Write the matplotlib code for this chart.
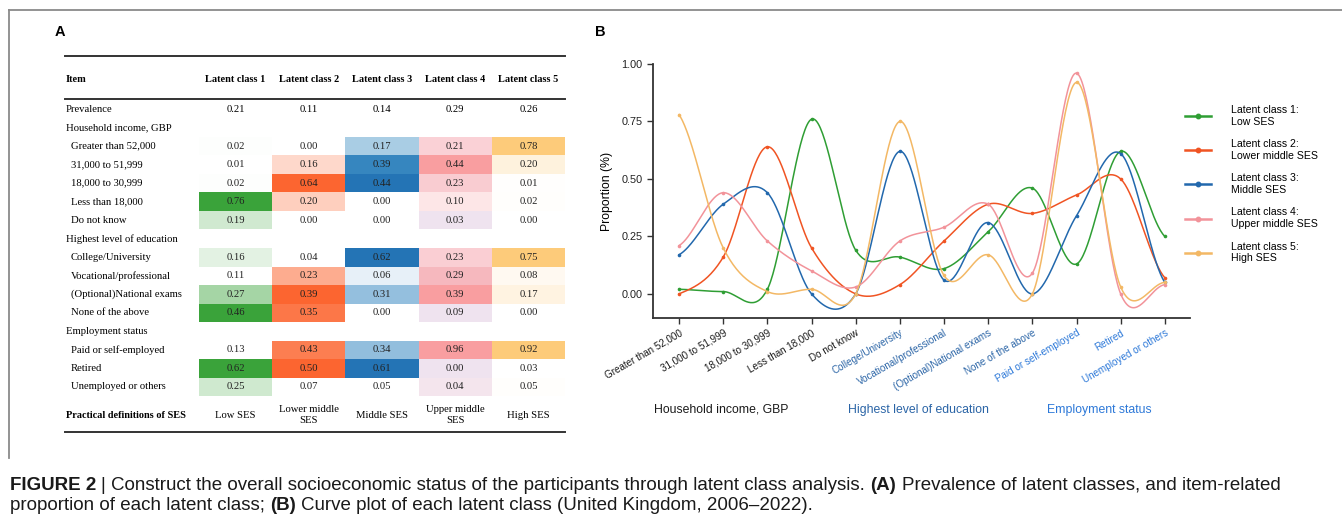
import numpy as np
import matplotlib
matplotlib.use("Agg")
import matplotlib.pyplot as plt
from matplotlib.colors import LinearSegmentedColormap
from matplotlib.patches import Rectangle
from matplotlib.lines import Line2D

# ---- data -------------------------------------------------------------
class_names = ["Latent class 1", "Latent class 2", "Latent class 3", "Latent class 4", "Latent class 5"]
ses_names = ["Low SES", "Lower middle\nSES", "Middle SES", "Upper middle\nSES", "High SES"]
legend_names = ["Latent class 1:\nLow SES", "Latent class 2:\nLower middle SES", "Latent class 3:\nMiddle SES",
                "Latent class 4:\nUpper middle SES", "Latent class 5:\nHigh SES"]
prevalence = [0.21, 0.11, 0.14, 0.29, 0.26]

groups = ["Household income, GBP", "Highest level of education", "Employment status"]
income_items = ["Greater than 52,000", "31,000 to 51,999", "18,000 to 30,999", "Less than 18,000", "Do not know"]
education_items = ["College/University", "Vocational/professional", "(Optional)National exams", "None of the above"]
employment_items = ["Paid or self-employed", "Retired", "Unemployed or others"]

class1 = [0.02, 0.01, 0.02, 0.76, 0.19, 0.16, 0.11, 0.27, 0.46, 0.13, 0.62, 0.25]
class2 = [0.00, 0.16, 0.64, 0.20, 0.00, 0.04, 0.23, 0.39, 0.35, 0.43, 0.50, 0.07]
class3 = [0.17, 0.39, 0.44, 0.00, 0.00, 0.62, 0.06, 0.31, 0.00, 0.34, 0.61, 0.05]
class4 = [0.21, 0.44, 0.23, 0.10, 0.03, 0.23, 0.29, 0.39, 0.09, 0.96, 0.00, 0.04]
class5 = [0.78, 0.20, 0.01, 0.02, 0.00, 0.75, 0.08, 0.17, 0.00, 0.92, 0.03, 0.05]
classes = [class1, class2, class3, class4, class5]

# ---- styles -------------------------------------------------------------
W, H = 1342, 521
line_cols = ["#2f9e34", "#f05423", "#2268ad", "#f2939a", "#f3b865"]
cell_cmaps = [
    LinearSegmentedColormap.from_list("g", ["#ffffff", "#3aa33a"]),
    LinearSegmentedColormap.from_list("o", ["#ffffff", "#fc6530"]),
    LinearSegmentedColormap.from_list("b", [(0, "#ffffff"), (0.1, "#e6eff8"), (0.4, "#a6cbe3"),
                                            (0.55, "#8cbadb"), (0.89, "#3585bf"), (1, "#2474b5")]),
    LinearSegmentedColormap.from_list("p", [(0, "#efe3ef"), (0.12, "#fdeaea"), (0.45, "#fad0d5"),
                                            (0.7, "#f5b4ba"), (1, "#f99ea0")]),
    LinearSegmentedColormap.from_list("y", ["#ffffff", "#fdcb7a"]),
]
group_cols = ["#1a1a1a", "#2a64a6", "#2c78d8"]
serif = "Liberation Serif"
sans = "Liberation Sans"

fig = plt.figure(figsize=(W / 100, H / 100), dpi=100)
fig.patch.set_facecolor("white")
bg = fig.add_axes([0, 0, 1, 1])
bg.set_xlim(0, W)
bg.set_ylim(H, 0)
bg.axis("off")

# frame
bg.plot([9, W], [10, 10], color="#8a8a8a", lw=1.3)
bg.plot([9, 9], [10, 458], color="#8a8a8a", lw=1.3)

bg.text(55, 32, "A", fontsize=10.5, fontweight="bold", family=sans, va="center")
bg.text(595, 32, "B", fontsize=10.5, fontweight="bold", family=sans, va="center")

# ---- panel A: table -----------------------------------------------------
x_left, x_right = 65, 565
col_x0, col_w = 199, 73.2
row_y0, row_h = 109, 18.53
fs_body = 7.7

bg.plot([x_left, x_right], [56, 56], color="#333333", lw=1.4)
bg.plot([x_left, x_right], [99, 99], color="#333333", lw=1.4)
bg.plot([x_left, x_right], [432, 432], color="#333333", lw=1.4)

bg.text(66, 79, "Item", fontsize=7.4, fontweight="bold", family=serif, va="center")
for j, name in enumerate(class_names):
    bg.text(col_x0 + (j + 0.5) * col_w, 79, name, fontsize=7.4, fontweight="bold",
            family=serif, ha="center", va="center")

bg.text(66, row_y0, "Prevalence", fontsize=fs_body, family=serif, va="center")
for j, v in enumerate(prevalence):
    bg.text(col_x0 + (j + 0.5) * col_w, row_y0, f"{v:.2f}", fontsize=fs_body,
            family=serif, ha="center", va="center")

row = 1
k = 0
for g, items in zip(groups, [income_items, education_items, employment_items]):
    bg.text(66, row_y0 + row * row_h, g, fontsize=fs_body, family=serif, va="center")
    row += 1
    sl = slice(k, k + len(items))
    for i, item in enumerate(items):
        y = row_y0 + row * row_h
        bg.text(71, y, item, fontsize=fs_body, family=serif, va="center")
        for j in range(5):
            vals = np.array(classes[j][sl])
            v = classes[j][k + i]
            t = (v - vals.min()) / (vals.max() - vals.min())
            cx = col_x0 + j * col_w
            bg.add_patch(Rectangle((cx, y - row_h / 2), col_w, row_h,
                                   facecolor=cell_cmaps[j](t), edgecolor="none"))
            bg.text(cx + col_w / 2, y, f"{v:.2f}", fontsize=fs_body, family=serif,
                    ha="center", va="center", color="#222222")
        row += 1
    k += len(items)

bg.text(66, 415, "Practical definitions of SES", fontsize=7.4, fontweight="bold",
        family=serif, va="center")
for j, s in enumerate(ses_names):
    bg.text(col_x0 + (j + 0.5) * col_w, 415, s, fontsize=fs_body, family=serif,
            ha="center", va="center", linespacing=1.2)

# ---- panel B: curve plot -------------------------------------------------
def catmull_rom(y, n=40):
    # smooth rendering of the line through the data points (cardinal spline)
    y = np.asarray(y, float)
    m = len(y)
    yp = np.concatenate([[y[0]], y, [y[-1]]])
    tang = (yp[2:] - yp[:-2]) / 2
    t = np.linspace(0, 1, n, endpoint=False)
    h00 = 2 * t ** 3 - 3 * t ** 2 + 1
    h10 = t ** 3 - 2 * t ** 2 + t
    h01 = -2 * t ** 3 + 3 * t ** 2
    h11 = t ** 3 - t ** 2
    xs, ys = [], []
    for i in range(m - 1):
        xs.append(i + t)
        ys.append(h00 * y[i] + h10 * tang[i] + h01 * y[i + 1] + h11 * tang[i + 1])
    xs.append([m - 1])
    ys.append([y[-1]])
    return np.concatenate(xs), np.concatenate(ys)


x0, x1, y0, y1 = 653, 1190, 64, 318
ax = fig.add_axes([x0 / W, 1 - y1 / H, (x1 - x0) / W, (y1 - y0) / H])
ax.patch.set_alpha(0)
all_items = income_items + education_items + employment_items
xpos = np.arange(len(all_items))
for vals, c in zip(classes, line_cols):
    sx, sy = catmull_rom(vals)
    ax.plot(sx, sy, color=c, lw=1.1)
    ax.plot(xpos, vals, "o", color=c, ms=2.6, mew=0)

ax.set_xlim(-0.59, 11.57)
ax.set_ylim(-0.105, 1.0)
ax.set_yticks([0, 0.25, 0.5, 0.75, 1.0])
ax.set_yticklabels(["0.00", "0.25", "0.50", "0.75", "1.00"], fontsize=7.8, family=sans)
ax.set_xticks(xpos)
ax.set_xticklabels(all_items, rotation=30, ha="right", rotation_mode="anchor",
                   fontsize=7.1, family=sans)
label_groups = [0] * len(income_items) + [1] * len(education_items) + [2] * len(employment_items)
for lab, gi in zip(ax.get_xticklabels(), label_groups):
    lab.set_color(group_cols[gi])
for s in ["top", "right"]:
    ax.spines[s].set_visible(False)
for s in ["left", "bottom"]:
    ax.spines[s].set_color("#333333")
    ax.spines[s].set_linewidth(1.3)
ax.tick_params(colors="#333333", length=4, width=1.0, labelcolor="#222222", axis="y")
ax.tick_params(length=4, width=1.0, color="#333333", axis="x", pad=3)
ax.set_ylabel("Proportion (%)", fontsize=8.8, family=sans, labelpad=6)

for name, cx, c in zip(groups, [721, 918, 1099], group_cols):
    bg.text(cx, 410, name, fontsize=8.8, family=sans, ha="center", va="center", color=c)

handles = [Line2D([], [], color=c, lw=1.8, marker="o", ms=3.2) for c in line_cols]
fig.legend(handles, legend_names, loc="upper left", bbox_to_anchor=(1180 / W, 1 - 100 / H),
           frameon=False, handlelength=2.4, handletextpad=1.9,
           labelspacing=1.18, borderpad=0, prop={"family": sans, "size": 7.6})

# ---- caption -------------------------------------------------------------
renderer = fig.canvas.get_renderer()
cap_size = 13.5
space = 0.278 * cap_size * 100 / 72


def draw_runs(runs, x, y):
    for s, bold in runs:
        t = bg.text(x, y, s, fontsize=cap_size, family=sans, va="center",
                    fontweight="bold" if bold else "normal", color="#1a1a1a")
        x += t.get_window_extent(renderer).width + space


draw_runs([("FIGURE 2", True), ("| Construct the overall socioeconomic status of the participants "
           "through latent class analysis.", False), ("(A)", True),
           ("Prevalence of latent classes, and item-related", False)], 10, 485)
draw_runs([("proportion of each latent class;", False), ("(B)", True),
           ("Curve plot of each latent class (United Kingdom, 2006\u20132022).", False)], 10, 506)

fig.savefig("out.png", dpi=100)
